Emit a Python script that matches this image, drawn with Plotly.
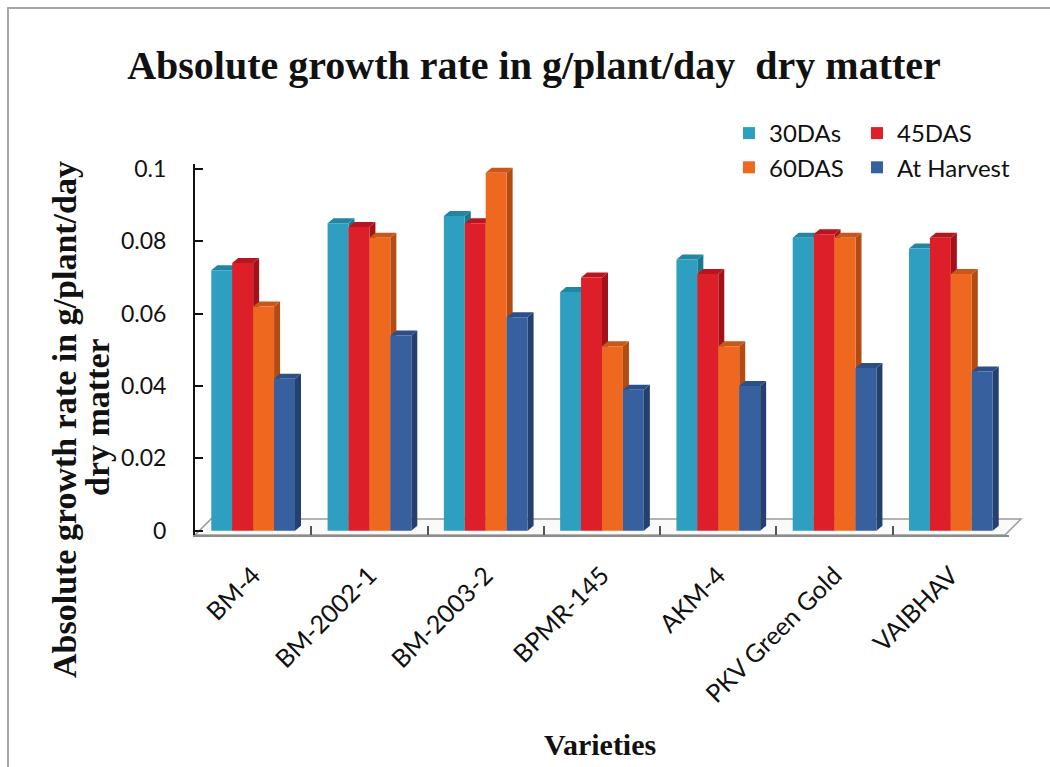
import plotly.graph_objects as go

# ---- data -------------------------------------------------------------
varieties = ["BM-4", "BM-2002-1", "BM-2003-2", "BPMR-145", "AKM-4",
             "PKV Green Gold", "VAIBHAV"]
series_names = ["30DAs", "45DAS", "60DAS", "At Harvest"]
das30 = [0.072, 0.085, 0.087, 0.066, 0.075, 0.081, 0.078]
das45 = [0.074, 0.084, 0.085, 0.070, 0.071, 0.082, 0.081]
das60 = [0.062, 0.081, 0.099, 0.051, 0.051, 0.081, 0.071]
harvest = [0.042, 0.054, 0.059, 0.039, 0.040, 0.045, 0.044]
y_ticks = [0, 0.02, 0.04, 0.06, 0.08, 0.1]
y_tick_text = ["0", "0.02", "0.04", "0.06", "0.08", "0.1"]

# ---- style ------------------------------------------------------------
front_colors = ["#2e9fc0", "#dc1f29", "#ee6820", "#37609f"]
side_colors = ["#1d7690", "#a3121b", "#b24c12", "#23406e"]
top_colors = ["#2286a3", "#b8161f", "#c9561a", "#2b4f86"]
legend_ids = ["legend", "legend2", "legend", "legend2"]

W, H = 1050, 767
ML, MR, MT, MB = 195, 41, 164, 232
PW, PH = W - ML - MR, H - MT - MB
Y_RANGE = [-0.0012, 0.1014]
BARGAP = 0.28

SANS = "Lato, sans-serif"
SERIF = "Liberation Serif, Times New Roman, serif"


def px_x(p):
    """figure pixel column -> paper x"""
    return (p - ML) / PW


def px_y(p):
    """figure pixel row -> paper y"""
    return (H - MB - p) / PH


# pixel -> data helpers for the 3-D depth of each column
px_per_cat = PW / len(varieties)
px_per_unit = PH / (Y_RANGE[1] - Y_RANGE[0])
DX = 6 / px_per_cat
DY = 5 / px_per_unit

values = [das30, das45, das60, harvest]

fig = go.Figure()
for name, vals, col, lg in zip(series_names, values, front_colors, legend_ids):
    fig.add_trace(go.Bar(
        name=name, x=varieties, y=vals, legend=lg, legendgroup=name,
        marker=dict(color=col, line=dict(width=0)),
    ))

shapes = []

# floor of the 3-D plot
fx0, fx1 = 0.0, px_x(1005)
fdx = 16 / PW
fy0 = Y_RANGE[0]
fy1 = Y_RANGE[0] + 16 / px_per_unit
shapes.append(dict(
    type="path", xref="paper", yref="y", layer="below",
    path=f"M {fx0},{fy0} L {fx0 + fdx},{fy1} L {fx1 + fdx},{fy1} L {fx1},{fy0} Z",
    fillcolor="#fafafa", line=dict(color="#9a9a9a", width=1.5),
))

# side and top faces of every column
n = len(values)
grp = 1 - BARGAP
bw = grp / n
for i in range(len(varieties)):
    for j in range(n):
        v = values[j][i]
        xl = i - grp / 2 + j * bw
        xr = xl + bw
        shapes.append(dict(
            type="path", xref="x", yref="y", layer="below",
            path=f"M {xr},0 L {xr + DX},{DY} L {xr + DX},{v + DY} L {xr},{v} Z",
            fillcolor=side_colors[j], line=dict(width=0),
        ))
        shapes.append(dict(
            type="path", xref="x", yref="y", layer="below",
            path=f"M {xl},{v} L {xl + DX},{v + DY} L {xr + DX},{v + DY} L {xr},{v} Z",
            fillcolor=top_colors[j], line=dict(width=0),
        ))

# outer frame of the chart area
shapes.append(dict(
    type="rect", xref="paper", yref="paper", layer="above",
    x0=px_x(8), x1=px_x(W + 20), y0=px_y(H + 20), y1=px_y(8),
    line=dict(color="#a6a6a6", width=2), fillcolor="rgba(0,0,0,0)",
))

annotations = [
    dict(text="<b>Absolute growth rate in g/plant/day</b>", xref="paper", yref="paper",
         x=px_x(64), y=px_y(420), textangle=-90, showarrow=False,
         font=dict(family=SERIF, size=34, color="#111111"),
         xanchor="center", yanchor="middle"),
    dict(text="<b>dry matter</b>", xref="paper", yref="paper",
         x=px_x(97), y=px_y(417), textangle=-90, showarrow=False,
         font=dict(family=SERIF, size=34, color="#111111"),
         xanchor="center", yanchor="middle"),
    dict(text="<b>Varieties</b>", xref="paper", yref="paper",
         x=px_x(600), y=px_y(744), showarrow=False,
         font=dict(family=SERIF, size=30, color="#111111"),
         xanchor="center", yanchor="middle"),
]

legend_style = dict(
    xanchor="left", yanchor="top", y=px_y(111),
    itemwidth=30, tracegroupgap=5,
    font=dict(family=SANS, size=24, color="#111111"),
    bgcolor="rgba(0,0,0,0)", traceorder="normal",
)

fig.update_layout(
    width=W, height=H,
    margin=dict(l=ML, r=MR, t=MT, b=MB, autoexpand=False),
    paper_bgcolor="white", plot_bgcolor="white",
    barmode="group", bargap=BARGAP, bargroupgap=0,
    title=dict(
        text="<b>Absolute growth rate in g/plant/day  dry matter</b>",
        x=534 / W, xanchor="center", y=1 - 65 / H, yanchor="middle",
        font=dict(family=SERIF, size=40, color="#111111"),
    ),
    legend=dict(x=px_x(729), **legend_style),
    legend2=dict(x=px_x(857), **legend_style),
    xaxis=dict(
        type="category", range=[-0.5, len(varieties) - 0.5],
        tickson="boundaries", ticks="inside", ticklen=9, tickwidth=1.5,
        tickcolor="#555555", showline=True, linecolor="#8c8c8c", linewidth=2,
        tickangle=-45, ticklabelstandoff=14,
        tickfont=dict(family=SANS, size=25, color="#111111"),
        showgrid=False, zeroline=False,
    ),
    yaxis=dict(
        range=Y_RANGE, tickvals=y_ticks, ticktext=y_tick_text,
        ticks="inside", ticklen=8, tickwidth=1.5, tickcolor="#111111",
        showline=True, linecolor="#111111", linewidth=2,
        ticklabelstandoff=22,
        tickfont=dict(family=SANS, size=23, color="#111111"),
        showgrid=False, zeroline=False,
    ),
    shapes=shapes,
    annotations=annotations,
)

fig.write_html("out.html")
